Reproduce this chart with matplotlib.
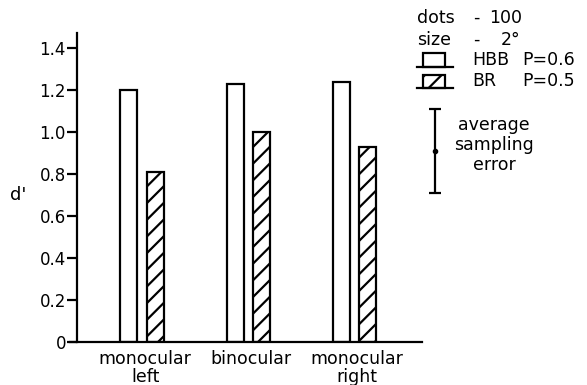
import matplotlib
matplotlib.use("Agg")
import matplotlib.pyplot as plt
from matplotlib.patches import Rectangle
import numpy as np

categories = ["monocular\nleft", "binocular", "monocular\nright"]
hbb = [1.20, 1.23, 1.24]
br = [0.81, 1.00, 0.93]
yticks = [0, 0.2, 0.4, 0.6, 0.8, 1.0, 1.2, 1.4]
yticklabels = ["0", "0.2", "0.4", "0.6", "0.8", "1.0", "1.2", "1.4"]
sampling_error = 0.2
ylabel = "d'"

plt.rcParams['font.family'] = ['DejaVu Sans']
plt.rcParams['hatch.linewidth'] = 1.6

fig = plt.figure(figsize=(5.87, 3.85), dpi=100)
ax = fig.add_axes([70/587, 1-342/385, 352/587, 309/385])

x = np.arange(len(categories))
off = 0.123
w = 0.16
lw = 1.6
ax.bar(x - off, hbb, width=w, facecolor='white', edgecolor='black', linewidth=lw)
ax.bar(x + off, br, width=w, facecolor='white', edgecolor='black', linewidth=lw, hatch='//')

ax.set_xlim(-0.679, 2.64)
ax.set_ylim(0, 1.471)
for s in ['top', 'right']:
    ax.spines[s].set_visible(False)
ax.spines['left'].set_position(('data', -0.613))
ax.spines['left'].set_linewidth(lw)
ax.spines['bottom'].set_linewidth(lw)

ax.set_yticks(yticks)
ax.set_yticklabels(yticklabels, fontsize=12)
ax.tick_params(axis='y', length=7, width=lw, pad=1)
ax.set_xticks(x + 0.03)
ax.set_xticklabels(categories, fontsize=12.5, linespacing=0.95)
ax.tick_params(axis='x', length=0, pad=6)

ax.text(-1.17, 0.70, ylabel, fontsize=13, ha='center', va='center')

# average sampling error bar
ax.errorbar([2.764], [0.91], yerr=[sampling_error], fmt='o', color='black',
            markersize=3, capsize=4.5, elinewidth=lw, capthick=lw, clip_on=False)

# overlay for legend in pixel coords
ov = fig.add_axes([0, 0, 1, 1], zorder=5)
ov.set_xlim(0, 587)
ov.set_ylim(385, 0)
ov.axis('off')
ov.patch.set_alpha(0)

fs = 12.5
ov.text(417, 18, "dots", fontsize=fs, va='center', ha='left')
ov.text(473, 18, "-", fontsize=fs, va='center', ha='left')
ov.text(522, 18, "100", fontsize=fs, va='center', ha='right')
ov.text(417, 40, "size", fontsize=fs, va='center', ha='left')
ov.text(473, 40, "-", fontsize=fs, va='center', ha='left')
ov.text(520, 40, "2°", fontsize=fs, va='center', ha='right')

ov.plot([417, 453], [67, 67], color='black', lw=lw)
ov.add_patch(Rectangle((423, 53), 22, 14, facecolor='white', edgecolor='black', lw=lw))
ov.plot([417, 453], [88, 88], color='black', lw=lw)
ov.add_patch(Rectangle((423, 75), 22, 13, facecolor='white', edgecolor='black', lw=lw, hatch='//'))

ov.text(472, 60, "HBB", fontsize=fs, va='center', ha='left')
ov.text(522, 60, "P=0.6", fontsize=fs, va='center', ha='left')
ov.text(472, 81, "BR", fontsize=fs, va='center', ha='left')
ov.text(522, 81, "P=0.5", fontsize=fs, va='center', ha='left')

ov.text(494, 145, "average\nsampling\nerror", fontsize=fs, va='center', ha='center',
        linespacing=1.12)

fig.savefig("out.png", dpi=100)
